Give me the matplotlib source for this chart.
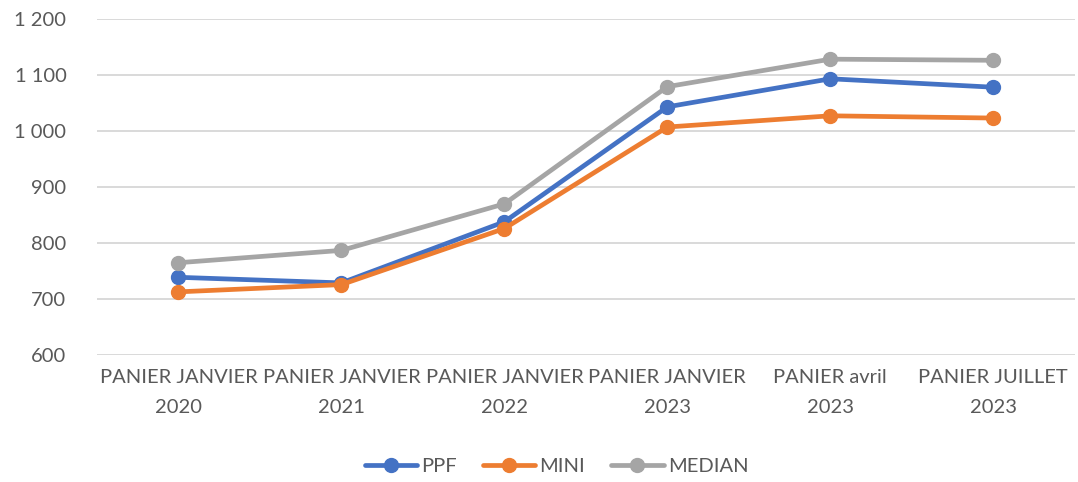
import numpy as np
import matplotlib.pyplot as plt
from matplotlib import font_manager

categories = ['PANIER JANVIER\n2020', 'PANIER JANVIER\n2021', 'PANIER JANVIER\n2022',
              'PANIER JANVIER\n2023', 'PANIER avril\n2023', 'PANIER JUILLET\n2023']
ppf = [739, 729, 838, 1043, 1093, 1078]
mini = [713, 726, 826, 1007, 1027, 1023]
median = [765, 787, 870, 1079, 1128, 1126]
yticks = [600, 700, 800, 900, 1000, 1100, 1200]

names = {f.name for f in font_manager.fontManager.ttflist}
fam = [f for f in ['Liberation Sans Narrow', 'Lato', 'DejaVu Sans'] if f in names]
plt.rcParams['font.family'] = fam

fig = plt.figure(figsize=(10.78, 4.82), dpi=100)
ax = fig.add_axes([0.09, 0.263, 0.907, 0.698])

x = np.arange(len(categories))
series = [('PPF', ppf, '#4472C4'), ('MINI', mini, '#ED7D31'), ('MEDIAN', median, '#A5A5A5')]
for name, vals, col in series:
    ax.plot(x, vals, color=col, lw=3.4, marker='o', markersize=10, label=name,
            solid_capstyle='round')

ax.set_xlim(-0.5, len(categories) - 0.5)
ax.set_ylim(600, 1200)
ax.set_yticks(yticks)
ax.set_yticklabels([f'{v:,}'.replace(',', ' ') for v in yticks])
ax.set_xticks(x)
ax.set_xticklabels(categories, linespacing=1.9)
ax.grid(axis='y', color='#D9D9D9', lw=1.4)
ax.set_axisbelow(True)
for s in ax.spines.values():
    s.set_visible(False)
ax.tick_params(length=0, labelsize=14.5, labelcolor='#595959')
ax.tick_params(axis='y', pad=22)
ax.tick_params(axis='x', pad=10)

ax.legend(loc='center', bbox_to_anchor=(0.47, -0.33), ncol=3, frameon=False,
          fontsize=14.5, labelcolor='#595959', handlelength=2.6, columnspacing=1.3,
          handletextpad=0.2)

fig.savefig('out.png', dpi=100)
